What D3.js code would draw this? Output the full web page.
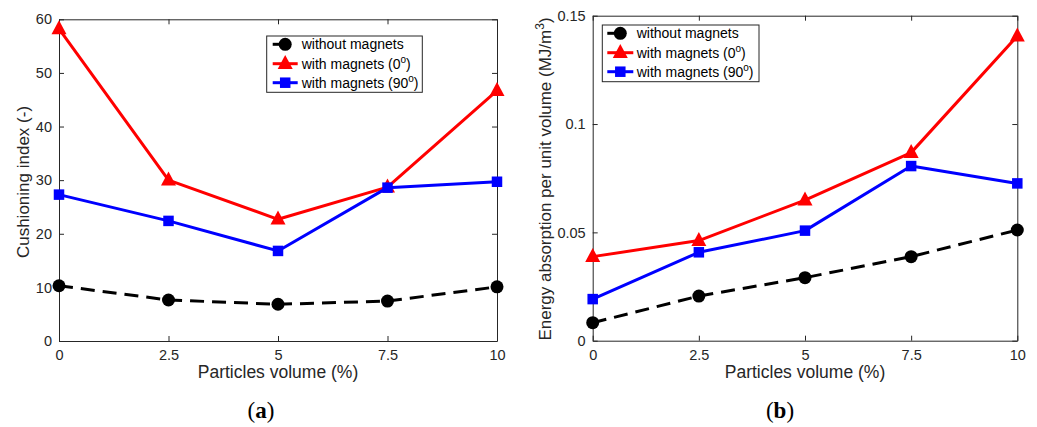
<!DOCTYPE html>
<html>
<head>
<meta charset="utf-8">
<script src="https://cdn.jsdelivr.net/npm/d3@7"></script>
<style>
  html, body { margin: 0; padding: 0; background: #fff; }
  svg { display: block; }
  text { font-family: "Liberation Sans", Arial, Helvetica, sans-serif; fill: #262626; }
  text.caption { font-family: "Liberation Serif", "DejaVu Serif", serif; fill: #000; }
</style>
</head>
<body>
<svg id="chart" width="1037" height="427"></svg>
<script>
// Particle volume fractions (%) tested
const particlesVolume = [0, 2.5, 5, 7.5, 10];
const xTicks = [0, 2.5, 5, 7.5, 10];

// (a) Cushioning index (-)
const cushionWithout = [10.3, 7.65, 6.85, 7.45, 10.1];
const cushionMag0 = [58.2, 30.0, 22.7, 28.7, 46.7];
const cushionMag90 = [27.3, 22.4, 16.8, 28.6, 29.7];
const cushionTicks = [0, 10, 20, 30, 40, 50, 60];

// (b) Energy absorption per unit volume (MJ/m^3)
const energyWithout = [0.0083, 0.0206, 0.0291, 0.0388, 0.0511];
const energyMag0 = [0.0388, 0.0462, 0.0649, 0.0868, 0.1406];
const energyMag90 = [0.0192, 0.0408, 0.0508, 0.0806, 0.0726];
const energyTicks = [0, 0.05, 0.1, 0.15];

const seriesNames = ["without magnets", "with magnets (0", "with magnets (90"];

const svg = d3.select("#chart");
const axisColor = "#262626";

const styles = [
  { color: "#000000", dash: "14,8", legendDash: "14,14", marker: "circle" },
  { color: "#ff0000", dash: null, legendDash: null, marker: "triangle" },
  { color: "#0000ff", dash: null, legendDash: null, marker: "square" }
];

function drawMarker(g, type, x, y, color) {
  if (type === "circle") {
    g.append("circle").attr("cx", x).attr("cy", y).attr("r", 6.5).attr("fill", color);
  } else if (type === "triangle") {
    const w = 15, h = 14;
    g.append("path")
      .attr("d", `M${x},${y - h * 0.62}L${x + w / 2},${y + h * 0.38}L${x - w / 2},${y + h * 0.38}Z`)
      .attr("fill", color);
  } else {
    const s = 10.5;
    g.append("rect").attr("x", x - s / 2).attr("y", y - s / 2)
      .attr("width", s).attr("height", s).attr("fill", color);
  }
}

function seriesLabel(textSel, name, idx) {
  if (idx === 0) { textSel.text(name); return; }
  textSel.append("tspan").text(name);
  textSel.append("tspan").attr("font-size", "10px").attr("dy", "-6").text("o");
  textSel.append("tspan").attr("dy", "6").text(")");
}

function panel(opts) {
  const x = d3.scaleLinear().domain([0, 10]).range([opts.left, opts.right]);
  const y = d3.scaleLinear().domain(opts.yDomain).range([opts.bottom, opts.top]);
  const g = svg.append("g");

  // box axes with inward ticks
  const tick = 5;
  const bottomAxis = d3.axisBottom(x).tickValues(xTicks).tickFormat(d3.format("~g"))
    .tickSizeInner(-tick).tickSizeOuter(0).tickPadding(9);
  const leftAxis = d3.axisLeft(y).tickValues(opts.yTicks).tickFormat(opts.yFormat)
    .tickSizeInner(-tick).tickSizeOuter(0).tickPadding(7);
  const topAxis = d3.axisTop(x).tickValues(xTicks).tickFormat("")
    .tickSizeInner(-tick).tickSizeOuter(0);
  const rightAxis = d3.axisRight(y).tickValues(opts.yTicks).tickFormat("")
    .tickSizeInner(-tick).tickSizeOuter(0);

  const axes = [
    [bottomAxis, `translate(0,${opts.bottom})`],
    [leftAxis, `translate(${opts.left},0)`],
    [topAxis, `translate(0,${opts.top})`],
    [rightAxis, `translate(${opts.right},0)`]
  ];
  axes.forEach(([ax, tr]) => {
    const a = g.append("g").attr("transform", tr).call(ax);
    a.selectAll("path.domain").attr("stroke", axisColor).attr("stroke-width", 1);
    a.selectAll(".tick line").attr("stroke", axisColor).attr("stroke-width", 1);
    a.selectAll(".tick text").attr("font-size", "14.5px").attr("fill", axisColor);
  });

  // series
  const line = d3.line().x((d, i) => x(particlesVolume[i])).y(d => y(d));
  opts.series.forEach((vals, si) => {
    const st = styles[si];
    const sg = g.append("g");
    sg.append("path").datum(vals).attr("d", line)
      .attr("fill", "none").attr("stroke", st.color).attr("stroke-width", 3)
      .attr("stroke-dasharray", st.dash).attr("stroke-linejoin", "round");
    vals.forEach((v, i) => drawMarker(sg, st.marker, x(particlesVolume[i]), y(v), st.color));
  });

  // axis titles
  g.append("text").attr("x", (opts.left + opts.right) / 2).attr("y", 378)
    .attr("text-anchor", "middle").attr("font-size", "17.5px").text("Particles volume (%)");
  const yl = g.append("text")
    .attr("transform", `translate(${opts.yLabelX},${opts.yLabelY}) rotate(-90)`)
    .attr("text-anchor", "middle").attr("font-size", "17px");
  opts.yLabel(yl);

  // legend
  const L = opts.legend;
  g.append("rect").attr("x", L.x0).attr("y", L.y0).attr("width", L.x1 - L.x0)
    .attr("height", L.y1 - L.y0).attr("fill", "#fff").attr("stroke", axisColor).attr("stroke-width", 1);
  seriesNames.forEach((name, i) => {
    const ry = L.rows[i];
    const st = styles[i];
    g.append("line").attr("x1", L.lx0).attr("x2", L.lx1).attr("y1", ry).attr("y2", ry)
      .attr("stroke", st.color).attr("stroke-width", 3).attr("stroke-dasharray", st.legendDash);
    drawMarker(g, st.marker, (L.lx0 + L.lx1) / 2, ry, st.color);
    const t = g.append("text").attr("x", L.tx).attr("y", ry + 5).attr("font-size", "14px").style("fill", "#000");
    seriesLabel(t, name, i);
  });

  // panel caption
  const cap = g.append("text").attr("class", "caption").attr("x", opts.capX).attr("y", 418)
    .attr("text-anchor", "middle").attr("font-size", "23px");
  cap.append("tspan").text("(");
  cap.append("tspan").attr("font-weight", "bold").text(opts.caption);
  cap.append("tspan").text(")");
}

panel({
  left: 59, right: 497, top: 19.3, bottom: 341,
  yDomain: [0, 60], yTicks: cushionTicks, yFormat: d3.format("d"),
  series: [cushionWithout, cushionMag0, cushionMag90],
  yLabelX: 29, yLabelY: 182,
  yLabel: t => t.text("Cushioning index (-)"),
  legend: { x0: 266.7, x1: 422.3, y0: 36, y1: 92.3, rows: [44.3, 63.7, 82.7], lx0: 272.7, lx1: 297.7, tx: 301.7 },
  capX: 261, caption: "a"
});

panel({
  left: 592.7, right: 1017.3, top: 15.7, bottom: 340.7,
  yDomain: [0, 0.15], yTicks: energyTicks, yFormat: d3.format("~g"),
  series: [energyWithout, energyMag0, energyMag90],
  yLabelX: 551, yLabelY: 179,
  yLabel: t => {
    t.append("tspan").text("Energy absorption per unit volume (MJ/m");
    t.append("tspan").attr("font-size", "12px").attr("dy", "-7").text("3");
    t.append("tspan").attr("dy", "7").text(")");
  },
  legend: { x0: 602.3, x1: 759, y0: 25, y1: 81.7, rows: [33.3, 52.7, 71.7], lx0: 607.3, lx1: 633.3, tx: 636.7 },
  capX: 780, caption: "b"
});
</script>
</body>
</html>
